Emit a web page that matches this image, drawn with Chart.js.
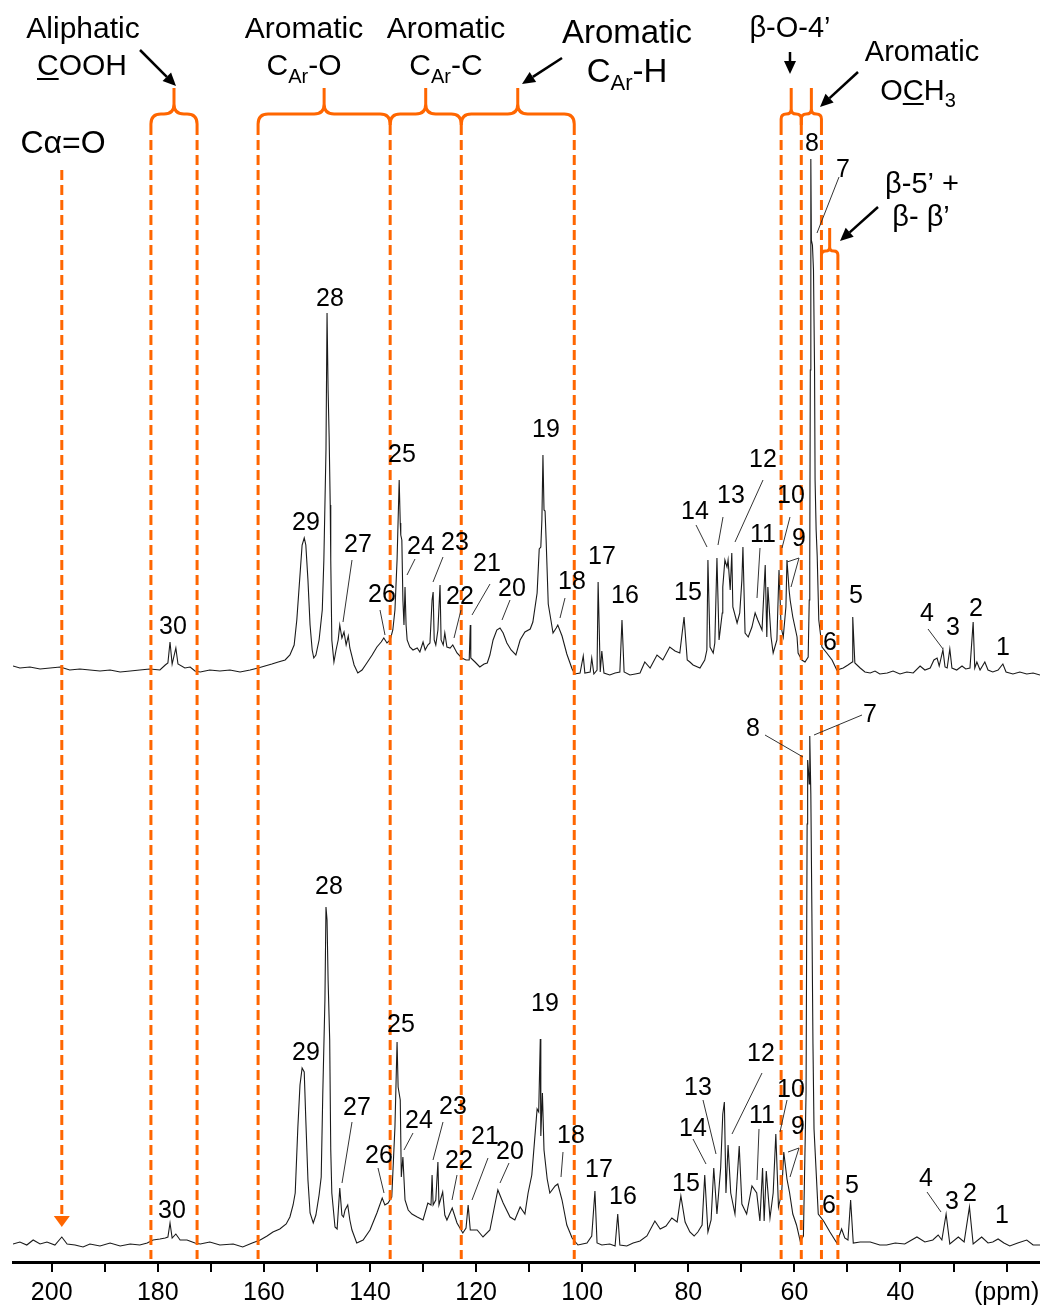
<!DOCTYPE html>
<html>
<head>
<meta charset="utf-8">
<script src="https://cdn.jsdelivr.net/npm/chart.js@4.4.1/dist/chart.umd.min.js"></script>
<style>
  html, body { margin: 0; padding: 0; background: #fff; }
  canvas { display: block; }
</style>
</head>
<body>
<canvas id="nmrChart" width="1040" height="1309"></canvas>
<script>
// 13C NMR traces, [ppm, intensity (a.u., baseline = 0)]
const topTrace = [
  [207.3,4],[206.0,2],[204.1,3],[202.2,1],[200.3,2],[198.4,3],[196.6,0],[194.7,1],[192.8,0],[190.9,-1],
  [189.0,0],[187.1,-2],[185.2,-1],[183.4,0],[181.5,1],[179.6,0],[178.6,5],[178.1,7],[177.7,28],[177.3,6],
  [176.6,22],[176.2,6],[174.9,2],[173.9,3],[173.0,-1],[172.0,-2],[170.2,0],[168.3,-1],[166.4,0],[164.5,-2],
  [162.6,0],[161.1,2],[159.8,4],[158.5,6],[157.3,8],[156.0,10],[155.1,15],[154.3,25],[153.8,50],[153.2,95],
  [152.8,125],[152.4,132],[152.1,125],[151.7,90],[151.3,45],[150.9,20],[150.6,12],[150.2,15],[149.6,30],[149.0,60],
  [148.7,110],[148.3,220],[148.1,357],[147.9,280],[147.7,232],[147.5,165],[147.4,110],[147.2,30],[146.8,8],[146.4,20],
  [146.0,30],[145.7,45],[145.3,32],[144.9,38],[144.5,25],[144.1,34],[143.8,22],[143.0,5],[142.3,-3],[141.5,0],
  [140.6,7],[139.6,15],[138.7,23],[137.9,28],[137.4,32],[136.8,27],[136.2,30],[135.7,40],[135.3,60],[134.9,110],
  [134.5,190],[134.3,147],[134.2,135],[134.0,130],[133.8,70],[133.6,45],[133.4,83],[133.2,45],[133.0,30],[132.5,23],
  [131.9,20],[131.1,22],[130.6,18],[130.0,28],[129.6,20],[129.1,25],[128.7,27],[128.3,70],[128.1,78],[127.9,30],
  [127.6,25],[127.2,40],[126.8,85],[126.6,30],[126.2,25],[125.9,37],[125.5,23],[124.9,22],[124.4,25],[123.6,17],
  [122.7,12],[121.9,10],[121.3,10],[121.1,45],[121.0,12],[120.2,8],[119.3,3],[118.5,6],[117.9,7],[117.4,15],
  [116.8,30],[116.1,40],[115.5,42],[114.9,37],[114.2,27],[113.4,20],[112.5,15],[111.7,30],[110.8,38],[109.8,41],
  [109.3,48],[108.5,77],[108.1,121],[107.8,123],[107.6,150],[107.4,215],[107.2,160],[107.0,159],[106.8,130],[106.4,66],
  [105.9,50],[105.5,37],[104.9,42],[104.6,45],[103.8,34],[102.9,16],[101.9,1],[101.4,-4],[100.4,-3],[99.8,14],
  [99.5,-3],[98.5,-2],[98.2,12],[97.8,-4],[97.2,0],[97.0,88],[96.6,-2],[96.3,19],[95.9,-3],[94.8,-5],
  [93.8,-3],[92.9,-2],[92.5,50],[92.1,-2],[91.0,-5],[90.0,-4],[89.1,-3],[88.2,8],[87.2,2],[85.9,15],
  [84.8,10],[83.5,23],[82.5,19],[81.6,17],[80.8,53],[80.2,10],[79.7,8],[79.1,5],[77.8,2],[76.9,10],
  [76.5,20],[76.3,110],[75.9,23],[75.3,17],[75.0,27],[74.6,112],[74.2,30],[73.6,57],[73.5,83],[73.1,110],
  [72.7,103],[72.5,110],[72.1,80],[71.8,117],[71.6,63],[70.8,47],[70.3,57],[69.9,90],[69.7,123],[69.3,37],
  [68.7,33],[68.0,43],[67.4,57],[66.9,50],[66.1,40],[65.5,105],[65.2,33],[65.0,83],[64.4,33],[64.0,17],
  [63.3,30],[62.9,100],[62.5,43],[62.1,33],[61.6,63],[61.4,110],[61.0,80],[60.8,70],[60.3,53],[59.5,33],
  [59.3,17],[58.6,10],[58.0,8],[57.4,13],[57.2,70],[57.1,110],[57.0,300],[56.9,511],[56.8,430],[56.6,425],
  [56.4,400],[56.2,300],[56.1,190],[55.9,140],[55.7,114],[55.4,50],[54.8,23],[53.9,17],[52.9,10],[52.0,0],
  [50.8,2],[49.9,5],[49.1,8],[49.0,53],[48.6,7],[47.6,2],[46.7,-2],[45.7,-3],[44.8,-1],[43.9,-4],
  [42.5,-3],[41.4,-1],[40.1,-4],[38.8,-2],[37.6,-3],[36.3,4],[35.4,0],[34.4,2],[33.7,10],[33.1,12],
  [32.7,4],[32.0,20],[31.6,3],[31.2,2],[30.7,21],[30.3,2],[29.4,0],[28.4,4],[27.7,1],[26.9,2],
  [26.3,48],[26.0,2],[25.6,8],[25.0,0],[24.1,8],[23.5,0],[22.6,-2],[21.6,0],[20.7,6],[20.1,-2],
  [18.8,-4],[17.5,-2],[16.2,-4],[15.0,-3],[13.7,-5]
];

const bottomTrace = [
  [207.3,0],[206.0,2],[204.7,-1],[203.5,4],[202.2,0],[200.9,2],[199.4,-1],[198.1,7],[197.1,0],[195.6,-1],
  [194.1,-3],[192.8,0],[190.9,-2],[189.0,1],[187.1,-2],[185.2,0],[183.4,-1],[182.0,1],[180.9,4],[179.6,5],
  [178.6,6],[178.1,7],[177.7,21],[177.3,6],[176.6,10],[175.8,4],[174.5,4],[173.0,1],[172.0,0],[170.2,2],
  [168.3,-1],[165.8,0],[164.0,-3],[162.2,1],[160.7,4],[159.4,8],[158.3,12],[157.0,15],[155.8,20],[155.1,27],
  [154.5,39],[154.1,51],[153.6,117],[153.2,159],[152.8,176],[152.4,172],[152.1,124],[151.7,64],[151.3,31],[150.7,21],
  [150.2,29],[149.6,49],[149.2,67],[148.9,151],[148.5,244],[148.3,337],[148.1,324],[147.9,264],[147.6,204],[147.4,94],
  [147.2,51],[146.6,17],[146.2,15],[145.7,56],[145.3,29],[145.0,27],[144.7,34],[144.2,39],[143.8,24],[143.4,14],
  [142.5,1],[141.3,4],[140.0,14],[138.7,31],[137.7,46],[137.2,39],[136.6,41],[135.9,47],[135.3,117],[134.9,202],
  [134.7,157],[134.3,144],[134.1,67],[133.8,87],[133.4,44],[132.8,34],[132.1,30],[131.1,27],[130.0,24],[129.1,41],
  [128.5,39],[128.3,69],[128.1,39],[127.6,44],[127.2,82],[127.0,39],[126.3,52],[125.9,29],[125.5,24],[124.5,36],
  [123.6,21],[122.5,11],[121.9,16],[121.5,39],[121.1,14],[119.8,14],[118.7,7],[117.4,14],[116.4,41],[115.9,54],
  [114.9,41],[113.6,27],[112.7,24],[111.7,37],[110.8,30],[110.2,51],[109.5,69],[108.5,135],[108.2,132],[107.9,205],
  [107.8,108],[107.5,151],[107.2,94],[106.6,65],[106.1,51],[105.1,58],[104.6,60],[103.8,44],[102.9,19],[101.9,6],
  [100.8,-1],[99.1,1],[98.2,8],[97.6,53],[97.2,1],[96.3,-1],[94.8,0],[93.8,-2],[93.3,30],[92.9,-1],
  [91.6,-2],[90.4,1],[89.1,3],[87.8,8],[86.3,23],[85.3,15],[84.2,18],[83.1,26],[82.1,22],[81.4,48],
  [80.6,22],[79.7,12],[78.9,8],[78.2,12],[77.4,19],[76.9,69],[76.3,12],[75.7,24],[75.2,76],[74.6,30],
  [73.9,76],[73.5,130],[73.2,142],[72.9,51],[72.5,99],[72.0,51],[71.2,30],[70.4,98],[69.9,40],[69.0,30],
  [68.0,58],[67.1,51],[66.5,23],[66.0,76],[65.7,23],[65.3,73],[64.6,26],[64.0,51],[63.5,110],[63.0,37],
  [62.4,51],[62.0,92],[61.4,65],[60.9,51],[60.3,30],[59.6,19],[58.9,3],[58.3,8],[57.8,151],[57.6,420],
  [57.5,484],[57.3,470],[57.2,460],[57.1,508],[56.9,450],[56.7,330],[56.5,200],[56.3,115],[55.5,30],[54.5,23],
  [53.3,12],[52.0,1],[51.1,15],[50.5,6],[49.9,4],[49.4,44],[48.9,1],[47.6,2],[45.7,2],[43.9,-1],
  [42.6,-1],[41.0,1],[39.2,0],[36.9,7],[35.4,2],[33.9,4],[32.9,9],[32.2,4],[31.4,30],[30.7,0],
  [29.1,7],[28.0,2],[27.0,37],[26.3,0],[24.7,7],[23.5,1],[22.6,2],[21.6,5],[20.5,1],[19.4,-2],
  [17.9,1],[16.2,4],[15.0,-1],[13.7,-1]
];

// axis ticks
const tickValues = [200,190,180,170,160,150,140,130,120,110,100,90,80,70,60,50,40,30,20];
const tickLabels = ['200','','180','','160','','140','','120','','100','','80','','60','','40','','(ppm)'];

// region edges (ppm) for the orange braces / dashed guides
const braceRanges = [[181.3,172.6],[161.1,136.2],[136.2,122.8],[122.8,101.5],[62.5,58.7],[58.7,54.9]];
const beta5Range = [54.9,51.8];
const carbonylPpm = 198.1;

const ORANGE = '#FF6600';
const FONT = '"Liberation Sans", Arial, Helvetica, sans-serif';

// peak numbers: [label, x, y] (centre, px)
const topLabels = [
  ['30',173,625],['29',306,521],['28',330,297],['27',358,543],['26',382,593],['25',402,453],['24',421,545],
  ['23',455,541],['22',460,595],['21',487,562],['20',512,587],['19',546,428],['18',572,580],['17',602,555],
  ['16',625,594],['15',688,591],['14',695,510],['13',731,494],['12',763,458],['11',763,533],['10',791,494],
  ['9',799,537],['8',812,142],['7',843,168],['6',830,641],['5',856,594],['4',927,612],['3',953,626],
  ['2',976,607],['1',1003,646]
];
const topLeaders = [
  [352,560,343,622],[380,610,385,635],[415,559,407,575],[443,557,433,582],[461,610,454,638],
  [490,584,472,615],[510,600,502,620],[565,598,560,618],[696,525,707,547],[723,517,718,545],
  [763,480,735,542],[760,548,757,598],[790,517,782,548],[799,558,787,562],[799,558,791,587],
  [839,177,817,233],[928,629,943,649]
];
const bottomLabels = [
  ['30',172,1209],['29',306,1051],['28',329,885],['27',357,1106],['26',379,1154],['25',401,1023],['24',419,1119],
  ['23',453,1105],['22',459,1159],['21',485,1135],['20',510,1150],['19',545,1002],['18',571,1134],['17',599,1168],
  ['16',623,1195],['15',686,1182],['14',693,1127],['13',698,1086],['12',761,1052],['11',762,1114],['10',791,1088],
  ['9',798,1125],['8',753,727],['7',870,713],['6',829,1204],['5',852,1184],['4',926,1177],['3',952,1200],
  ['2',970,1192],['1',1002,1214]
];
const bottomLeaders = [
  [352,1122,342,1183],[378,1168,384,1193],[413,1133,404,1150],[443,1122,433,1160],[457,1175,452,1200],
  [488,1158,472,1200],[509,1163,500,1183],[563,1152,561,1177],[693,1139,706,1164],[703,1100,716,1154],
  [762,1073,732,1134],[759,1129,757,1180],[787,1100,780,1132],[799,1148,788,1152],[799,1148,790,1177],
  [765,735,803,757],[862,715,814,735],[927,1192,941,1212]
];

function text(ctx, s, x, y, size, align) {
  ctx.font = size + 'px ' + FONT;
  ctx.textAlign = align || 'center';
  ctx.textBaseline = 'alphabetic';
  ctx.fillText(s, x, y);
}

// parts: [text, size, dy, underline]
function richText(ctx, parts, cx, y) {
  let total = 0;
  parts.forEach(p => { ctx.font = p[1] + 'px ' + FONT; total += ctx.measureText(p[0]).width; });
  let x = cx - total / 2;
  ctx.textAlign = 'left';
  ctx.textBaseline = 'alphabetic';
  parts.forEach(p => {
    ctx.font = p[1] + 'px ' + FONT;
    const w = ctx.measureText(p[0]).width;
    ctx.fillText(p[0], x, y + (p[2] || 0));
    if (p[3]) {
      ctx.lineWidth = 2;
      ctx.beginPath();
      ctx.moveTo(x, y + 4);
      ctx.lineTo(x + w, y + 4);
      ctx.stroke();
    }
    x += w;
  });
}

function arrow(ctx, x1, y1, x2, y2) {
  const a = Math.atan2(y2 - y1, x2 - x1), L = 13, W = 6;
  const bx = x2 - L * Math.cos(a), by = y2 - L * Math.sin(a);
  ctx.lineWidth = 2.5;
  ctx.beginPath();
  ctx.moveTo(x1, y1);
  ctx.lineTo(bx, by);
  ctx.stroke();
  ctx.beginPath();
  ctx.moveTo(x2, y2);
  ctx.lineTo(bx + W * Math.sin(a), by - W * Math.cos(a));
  ctx.lineTo(bx - W * Math.sin(a), by + W * Math.cos(a));
  ctx.closePath();
  ctx.fill();
}

function brace(ctx, x1, x2, yTip, yBar, yEnd) {
  const xm = (x1 + x2) / 2;
  const r = Math.min(10, (x2 - x1) / 4);
  ctx.beginPath();
  ctx.moveTo(x1, yEnd);
  ctx.lineTo(x1, yBar + r);
  ctx.quadraticCurveTo(x1, yBar, x1 + r, yBar);
  ctx.lineTo(xm - r, yBar);
  ctx.quadraticCurveTo(xm, yBar, xm, yBar - r);
  ctx.lineTo(xm, yTip);
  ctx.moveTo(xm, yBar - r);
  ctx.quadraticCurveTo(xm, yBar, xm + r, yBar);
  ctx.lineTo(x2 - r, yBar);
  ctx.quadraticCurveTo(x2, yBar, x2, yBar + r);
  ctx.lineTo(x2, yEnd);
  ctx.stroke();
}

const annotate = {
  id: 'annotate',
  afterDatasetsDraw(chart) {
    const ctx = chart.ctx;
    const xs = chart.scales.x;
    const px = v => xs.getPixelForValue(v);
    const axisY = chart.chartArea.bottom - 3;
    ctx.save();

    // orange guides
    ctx.strokeStyle = ORANGE;
    ctx.fillStyle = ORANGE;
    ctx.lineWidth = 3;
    ctx.setLineDash([10, 5]);
    const edges = new Set();
    braceRanges.forEach(r => { edges.add(r[0]); edges.add(r[1]); });
    edges.forEach(v => {
      ctx.beginPath(); ctx.moveTo(px(v), 125); ctx.lineTo(px(v), axisY); ctx.stroke();
    });
    ctx.beginPath(); ctx.moveTo(px(beta5Range[1]), 260); ctx.lineTo(px(beta5Range[1]), axisY); ctx.stroke();
    const cx = px(carbonylPpm);
    ctx.beginPath(); ctx.moveTo(cx, 170); ctx.lineTo(cx, 1214); ctx.stroke();
    ctx.setLineDash([]);
    ctx.beginPath(); ctx.moveTo(cx - 8, 1216); ctx.lineTo(cx + 8, 1216); ctx.lineTo(cx, 1227); ctx.closePath(); ctx.fill();

    braceRanges.forEach(r => brace(ctx, px(r[0]), px(r[1]), 88, 114, 125));
    brace(ctx, px(beta5Range[0]), px(beta5Range[1]), 228, 251, 260);

    // black text and arrows
    ctx.fillStyle = '#000';
    ctx.strokeStyle = '#000';
    text(ctx, 'Aliphatic', 83, 38, 30);
    richText(ctx, [['C', 30, 0, true], ['OOH', 30, 0]], 82, 75);
    arrow(ctx, 140, 50, 176, 86);
    text(ctx, 'Aromatic', 304, 38, 30);
    richText(ctx, [['C', 30, 0], ['Ar', 20, 8], ['-O', 30, 0]], 304, 75);
    text(ctx, 'Aromatic', 446, 38, 30);
    richText(ctx, [['C', 30, 0], ['Ar', 20, 8], ['-C', 30, 0]], 446, 75);
    text(ctx, 'Aromatic', 627, 43, 33);
    richText(ctx, [['C', 33, 0], ['Ar', 22, 8], ['-H', 33, 0]], 627, 82);
    arrow(ctx, 562, 58, 522, 84);
    text(ctx, 'β-O-4’', 790, 37, 29);
    arrow(ctx, 790, 52, 790, 74);
    text(ctx, 'Aromatic', 922, 61, 29);
    richText(ctx, [['O', 29, 0], ['C', 29, 0, true], ['H', 29, 0], ['3', 20, 7]], 918, 100);
    arrow(ctx, 858, 72, 820, 107);
    text(ctx, 'β-5’ +', 922, 193, 29);
    text(ctx, 'β- β’', 921, 226, 29);
    arrow(ctx, 878, 207, 840, 241);
    text(ctx, 'Cα=O', 63, 153, 32);

    // peak labels
    [topLabels, bottomLabels].forEach(list => list.forEach(l => text(ctx, l[0], l[1], l[2] + 9, 25)));
    ctx.strokeStyle = '#333';
    ctx.lineWidth = 1;
    [topLeaders, bottomLeaders].forEach(list => list.forEach(s => {
      ctx.beginPath(); ctx.moveTo(s[0], s[1]); ctx.lineTo(s[2], s[3]); ctx.stroke();
    }));
    ctx.restore();
  }
};

Chart.defaults.font.family = FONT;

new Chart(document.getElementById('nmrChart'), {
  type: 'line',
  data: {
    datasets: [
      {
        data: topTrace.map(p => ({ x: p[0], y: p[1] })),
        yAxisID: 'yTop',
        borderColor: '#1a1a1a',
        borderWidth: 1.1,
        pointRadius: 0,
        tension: 0
      },
      {
        data: bottomTrace.map(p => ({ x: p[0], y: p[1] })),
        yAxisID: 'yBot',
        borderColor: '#1a1a1a',
        borderWidth: 1.1,
        pointRadius: 0,
        tension: 0
      }
    ]
  },
  options: {
    responsive: false,
    animation: false,
    layout: { padding: { left: 13, right: 0, top: 0, bottom: 0 } },
    plugins: { legend: { display: false }, tooltip: { enabled: false } },
    scales: {
      x: {
        type: 'linear',
        reverse: true,
        min: 13.7,
        max: 207.3,
        afterBuildTicks: axis => { axis.ticks = tickValues.map(v => ({ value: v })); },
        // keep the plot flush with the canvas edges and the axis line at y = 1262
        afterFit: axis => { axis.paddingLeft = 0; axis.paddingRight = 0; axis.height = 47; },
        grid: { display: true, drawOnChartArea: false, drawTicks: true, tickLength: 10, color: '#000', lineWidth: 2 },
        border: { display: true, color: '#000', width: 3 },
        ticks: {
          autoSkip: false,
          maxRotation: 0,
          padding: 6,
          color: '#000',
          font: { size: 25 },
          callback: (v, i) => tickLabels[i]
        }
      },
      yTop: { display: false, min: -592, max: 670 },
      yBot: { display: false, min: -18, max: 1244 }
    }
  },
  plugins: [annotate]
});
</script>
</body>
</html>
